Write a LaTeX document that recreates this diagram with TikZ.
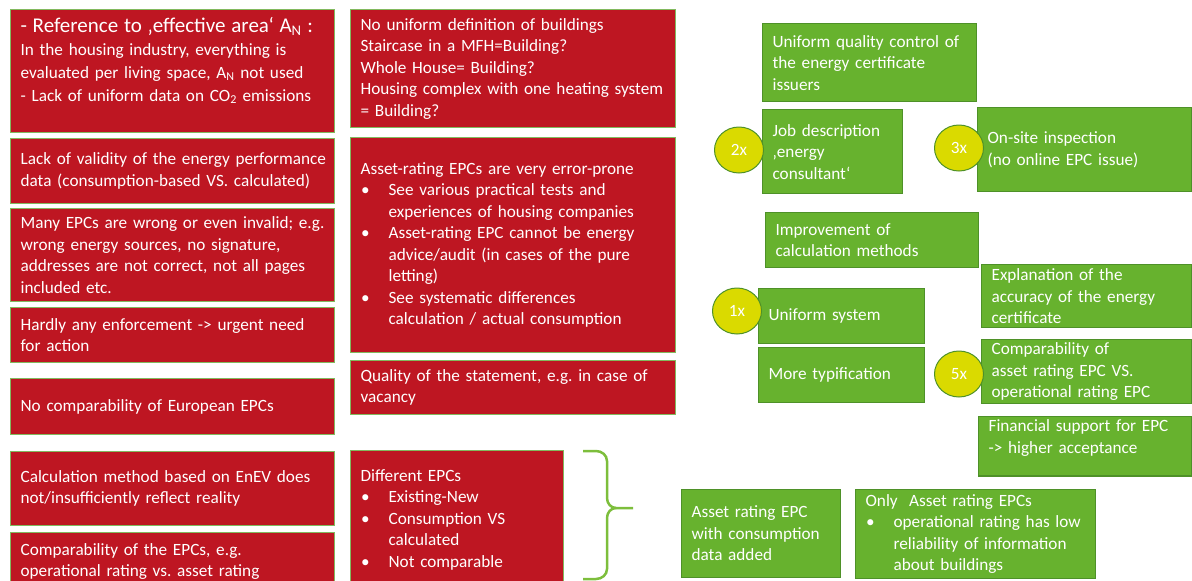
\documentclass[tikz,border=0pt]{standalone}
\usepackage{fontspec}
\setmainfont{Carlito}
\usetikzlibrary{shapes.geometric}
\definecolor{epcred}{RGB}{190,22,34}
\definecolor{redline}{RGB}{130,185,95}
\definecolor{epcgreen}{RGB}{103,178,46}
\definecolor{greenline}{RGB}{78,145,40}
\definecolor{badgeyellow}{RGB}{218,218,0}
\definecolor{bracegreen}{RGB}{125,190,60}
\frenchspacing
\newcommand{\bul}[1]{\par\hangindent=28pt\hangafter=1\noindent\hbox to 28pt{\hskip 0.5pt•\hfil}#1\par}
\begin{document}
\begin{tikzpicture}[x=1pt,y=-1pt,
  every node/.style={font=\fontsize{17.2}{21.5}\selectfont,text=white},
  redbox/.style={draw=redline,line width=1.2pt,fill=epcred,anchor=north west,align=left,inner xsep=4pt,inner ysep=3pt,execute at begin node={\leftskip=6pt\hyphenpenalty=10000}},
  greenbox/.style={draw=greenline,line width=1.2pt,fill=epcgreen,anchor=north west,align=left,inner xsep=4pt,inner ysep=3pt,execute at begin node={\leftskip=6pt\hyphenpenalty=10000}},
  badge/.style={ellipse,draw=greenline,line width=1pt,fill=badgeyellow,minimum width=49pt,minimum height=46pt,inner sep=0pt}]
\useasboundingbox (0,0) rectangle (1192,581);
\clip (0,0) rectangle (1192,581);
% problems, left column
\node[redbox,minimum width=324pt,minimum height=123pt,text width=316pt] (prob1) at (10,9) {{\fontsize{21}{24}\selectfont - Reference to ‚effective area‘ A\textsubscript{N} :}\\[1pt]In the housing industry, everything is\\[1.5pt]evaluated per living space, A\textsubscript{N} not used\\[1.5pt]- Lack of uniform data on CO\textsubscript{2} emissions\par\vspace{21pt}};
\node[redbox,minimum width=324pt,minimum height=65pt,text width=316pt] (prob2) at (10,138) {Lack of validity of the energy performance\\data (consumption-based VS. calculated)};
\node[redbox,minimum width=324pt,minimum height=93pt,text width=316pt] (prob3) at (10,208) {Many EPCs are wrong or even invalid; e.g.\\wrong energy sources, no signature,\\addresses are not correct, not all pages\\included etc.};
\node[redbox,minimum width=324pt,minimum height=55pt,text width=316pt] (prob4) at (10,307) {Hardly any enforcement -> urgent need\\for action};
\node[redbox,minimum width=324pt,minimum height=56pt,text width=316pt] (prob5) at (10,378) {No comparability of European EPCs};
\node[redbox,minimum width=324pt,minimum height=74pt,text width=316pt] (prob6) at (10,451) {Calculation method based on EnEV does\\not/insufficiently reflect reality};
\node[redbox,minimum width=324pt,minimum height=58pt,text width=316pt] (prob7) at (10,532) {Comparability of the EPCs, e.g.\\operational rating vs. asset rating};
% problems, middle column
\node[redbox,minimum width=325pt,minimum height=118pt,text width=317pt] (prob8) at (350,9) {No uniform definition of buildings\\Staircase in a MFH=Building?\\Whole House= Building?\\Housing complex with one heating system\\= Building?};
\node[redbox,minimum width=325pt,minimum height=215pt,text width=317pt] (prob9) at (350,137) {Asset-rating EPCs are very error-prone\bul{See various practical tests and\newline experiences of housing companies}\bul{Asset-rating EPC cannot be energy\newline advice/audit (in cases of the pure\newline letting)}\bul{See systematic differences\newline calculation / actual consumption}};
\node[redbox,minimum width=325pt,minimum height=54pt,text width=317pt] (prob10) at (350,360) {Quality of the statement, e.g. in case of\\vacancy};
\node[redbox,minimum width=213pt,minimum height=138pt,text width=205pt] (prob11) at (350,450) {Different EPCs\bul{Existing-New}\bul{Consumption VS\newline calculated}\bul{Not comparable}};
% brace
\draw[bracegreen,line width=2.5pt] (583,451) -- (596,451) to[out=0,in=90] (607,461) -- (607,498) to[out=-90,in=180] (616,508) -- (633,508);
\draw[bracegreen,line width=2.5pt] (616,508) to[out=180,in=90] (607,518) -- (607,569) to[out=-90,in=0] (596,579) -- (583,579);
% measures, right side
\node[greenbox,minimum width=214pt,minimum height=78pt,text width=206pt] (meas1) at (762,23) {Uniform quality control of\\the energy certificate\\issuers};
\node[greenbox,minimum width=140pt,minimum height=84pt,text width=132pt] (meas2) at (762,109) {Job description\\‚energy\\consultant‘};
\node[greenbox,minimum width=214pt,minimum height=84pt,text width=206pt] (meas3) at (977,107) {On-site inspection\\(no online EPC issue)};
\node[greenbox,minimum width=213pt,minimum height=55pt,text width=205pt] (meas4) at (765,212) {Improvement of\\calculation methods};
\node[greenbox,minimum width=210pt,minimum height=63pt,text width=202pt] (meas5) at (981,264) {Explanation of the\\accuracy of the energy\\certificate};
\node[greenbox,minimum width=166pt,minimum height=55pt,text width=158pt] (meas6) at (758,288) {Uniform system};
\node[greenbox,minimum width=166pt,minimum height=55pt,text width=158pt] (meas7) at (758,347) {More typification};
\node[greenbox,minimum width=210pt,minimum height=64pt,text width=202pt] (meas8) at (981,339) {Comparability of\\asset rating EPC VS.\\operational rating EPC};
\node[greenbox,minimum width=213pt,minimum height=55pt,text width=205pt] (meas9) at (978,416) {Financial support for EPC\\-> higher acceptance\par\vspace{17pt}};
\node[greenbox,minimum width=159pt,minimum height=88pt,text width=151pt] (meas10) at (681,489) {Asset rating EPC\\with consumption\\data added};
\node[greenbox,minimum width=240pt,minimum height=89pt,text width=232pt] (meas11) at (855,489) {Only~~Asset rating EPCs\bul{operational rating has low\newline reliability of information\newline about buildings}};
% votes
\node[badge] (vote2) at (739,150) {2x};
\node[badge] (vote3) at (959,148) {3x};
\node[badge] (vote1) at (737,311) {1x};
\node[badge] (vote5) at (959,374) {5x};
\end{tikzpicture}
\end{document}
